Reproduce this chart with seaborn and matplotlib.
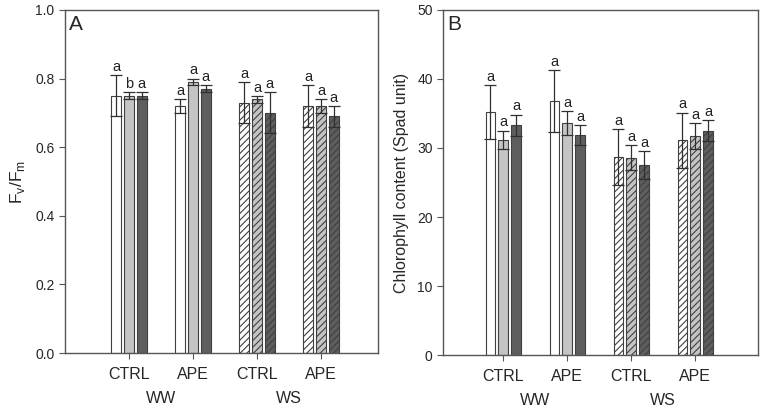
import numpy as np
import pandas as pd
import matplotlib
matplotlib.use('Agg')
import matplotlib.pyplot as plt
import matplotlib.transforms as mtransforms
from matplotlib.container import BarContainer
import seaborn as sns

groups = ['WW-CTRL', 'WW-APE', 'WS-CTRL', 'WS-APE']
tick_labels = ['CTRL', 'APE', 'CTRL', 'APE']
water = ['WW', 'WS']
treat = ['t1', 't2', 't3']

# panel A: Fv/Fm
fvfm_mean = [[0.75, 0.72, 0.73, 0.72],
             [0.75, 0.79, 0.74, 0.72],
             [0.75, 0.77, 0.70, 0.69]]
fvfm_err = [[0.06, 0.02, 0.06, 0.06],
            [0.01, 0.01, 0.01, 0.02],
            [0.01, 0.01, 0.06, 0.03]]
fvfm_letters = [['a', 'a', 'a', 'a'],
                ['b', 'a', 'a', 'a'],
                ['a', 'a', 'a', 'a']]

# panel B: chlorophyll
chl_mean = [[35.2, 36.8, 28.7, 31.1],
            [31.2, 33.6, 28.6, 31.7],
            [33.3, 31.9, 27.5, 32.5]]
chl_err = [[3.9, 4.5, 4.0, 4.0],
           [1.3, 1.7, 1.8, 1.9],
           [1.5, 1.4, 2.0, 1.5]]
chl_letters = [['a', 'a', 'a', 'a'],
               ['a', 'a', 'a', 'a'],
               ['a', 'a', 'a', 'a']]

colors = ['#ffffff', '#c4c4c4', '#5e5e5e']

sns.set_style('ticks')
plt.rcParams['font.family'] = ['Liberation Sans', 'DejaVu Sans']
plt.rcParams['hatch.linewidth'] = 0.8


def make_df(mean):
    rows = []
    for h, t in enumerate(treat):
        for i, g in enumerate(groups):
            rows.append({'group': g, 'treat': t, 'val': mean[h][i]})
    return pd.DataFrame(rows)


def draw(ax, mean, err, letters, ylim, yticks, ylabel, tag, off, fmt):
    df = make_df(mean)
    sns.barplot(data=df, x='group', y='val', hue='treat', order=groups,
                hue_order=treat, palette=colors, errorbar=None, width=0.6,
                gap=0.22, edgecolor='#404040', linewidth=0.8, legend=False, ax=ax)
    bars = [c for c in ax.containers if isinstance(c, BarContainer)]
    for h, cont in enumerate(bars):
        for i, p in enumerate(cont.patches):
            if i >= 2:
                p.set_hatch('/////')
            xc = p.get_x() + p.get_width() / 2
            y = p.get_height()
            ax.errorbar(xc, y, yerr=err[h][i], fmt='none', ecolor='#303030',
                        elinewidth=0.9, capsize=4.5, capthick=0.9)
            ax.text(xc, y + err[h][i] + off, letters[h][i], ha='center',
                    va='bottom', fontsize=10.5, color='#222222')
    ax.set_ylim(*ylim)
    ax.set_yticks(yticks)
    ax.set_yticklabels([fmt.format(v) for v in yticks], fontsize=10)
    ax.set_xticks(range(len(groups)))
    ax.set_xticklabels(tick_labels, fontsize=11.5)
    ax.set_xlabel('')
    for s in ax.spines.values():
        s.set_visible(True)
        s.set_color('#555555')
        s.set_linewidth(1.0)
    ax.tick_params(axis='both', direction='out', length=4, color='#555555')
    ax.tick_params(axis='x', pad=6)
    trans = mtransforms.blended_transform_factory(ax.transData, ax.transAxes)
    for k, w in enumerate(water):
        ax.text(0.5 + 2 * k, -0.131, w, transform=trans, ha='center',
                va='center', fontsize=11.5)
    ax.text(0.012, 0.985, tag, transform=ax.transAxes, ha='left', va='top',
            fontsize=15)


fig = plt.figure(figsize=(7.68, 4.12), dpi=100)
ax1 = fig.add_axes([0.0846, 0.143, 0.4076, 0.833])
ax2 = fig.add_axes([0.577, 0.138, 0.41, 0.838])

draw(ax1, fvfm_mean, fvfm_err, fvfm_letters, (0, 1.0),
     [0.0, 0.2, 0.4, 0.6, 0.8, 1.0], r'F$_\mathregular{v}$/F$_\mathregular{m}$',
     'A', 0.003, '{:.1f}')
ax1.set_ylabel(r'F$_\mathregular{v}$/F$_\mathregular{m}$', fontsize=12.5, labelpad=6)
ax1.set_xlim(-1.0, 3.89)

draw(ax2, chl_mean, chl_err, chl_letters, (0, 50),
     [0, 10, 20, 30, 40, 50], 'Chlorophyll content (Spad unit)',
     'B', 0.2, '{:.0f}')
ax2.set_ylabel('Chlorophyll content (Spad unit)', fontsize=11.5, labelpad=6)
ax2.set_xlim(-0.94, 3.98)

fig.savefig('out.png', dpi=100)
